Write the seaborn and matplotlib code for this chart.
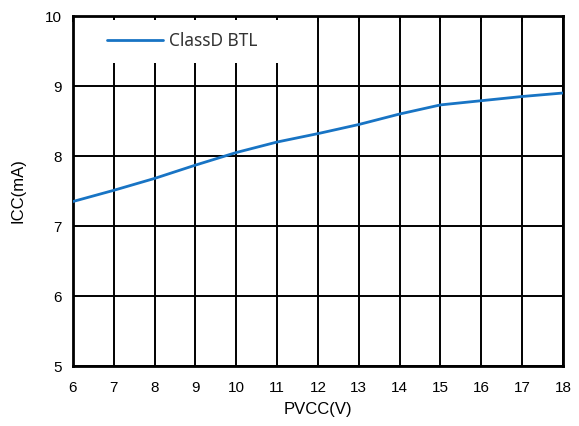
import matplotlib
matplotlib.use("Agg")
import matplotlib.pyplot as plt
from matplotlib.patches import Rectangle
import seaborn as sns
import pandas as pd

# Supply voltage (V) and quiescent current (mA)
pvcc = [6, 7, 8, 9, 10, 11, 12, 13, 14, 15, 16, 17, 18]
icc = [7.35, 7.51, 7.68, 7.87, 8.05, 8.20, 8.32, 8.45, 8.60, 8.73, 8.79, 8.85, 8.90]
series_name = "ClassD BTL"
x_ticks = list(range(6, 19))
y_ticks = [5, 6, 7, 8, 9, 10]

df = pd.DataFrame({"PVCC": pvcc, "ICC": icc})

sns.set_theme(style="white")
plt.rcParams["font.family"] = ["Liberation Sans", "DejaVu Sans"]

fig = plt.figure(figsize=(5.79, 4.26), dpi=100)
ax = fig.add_axes([73 / 579, 60 / 426, 490 / 579, 350 / 426])

sns.lineplot(data=df, x="PVCC", y="ICC", ax=ax, color="#1874c4",
             linewidth=2.0, zorder=4, legend=False)

ax.set_xlim(6, 18)
ax.set_ylim(5, 10)
ax.set_xticks(x_ticks)
ax.set_yticks(y_ticks)
ax.grid(True, color="black", linewidth=1.4)
ax.set_axisbelow(True)
for s in ax.spines.values():
    s.set_color("black")
    s.set_linewidth(2.0)

ax.tick_params(axis="x", direction="in", top=True, bottom=False, length=4,
               width=1.3, color="black", labelsize=11, pad=11, labelcolor="black")
ax.tick_params(axis="y", direction="in", left=False, length=0,
               labelsize=11, pad=8, labelcolor="black")

ax.set_xlabel("PVCC(V)", fontsize=12, color="black", labelpad=5)
ax.set_ylabel("ICC(mA)", fontsize=12, color="black", labelpad=14)

# white panel behind the legend entry
ax.add_patch(Rectangle((0.004, 0.866), 0.44, 0.123, transform=ax.transAxes,
                       facecolor="white", edgecolor="none", zorder=3))

line = ax.get_lines()[0]
leg = ax.legend([line], [series_name], loc="center left",
                bbox_to_anchor=((107 - 73) / 490, (366 - 41) / 350),
                frameon=False, borderpad=0, borderaxespad=0,
                handlelength=3.2, handletextpad=0.35,
                prop={"family": "Noto Sans", "size": 12.5})
leg.set_zorder(5)
for t in leg.get_texts():
    t.set_color("#333333")

fig.savefig("out.png", dpi=100)
